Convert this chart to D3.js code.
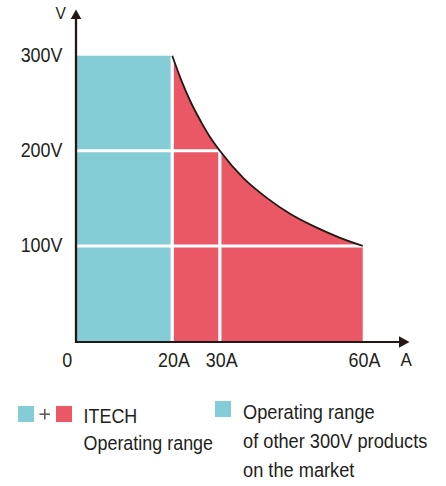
<!DOCTYPE html>
<html>
<head>
<meta charset="utf-8">
<script src="https://cdn.jsdelivr.net/npm/d3@7/dist/d3.min.js"></script>
<style>
  html, body { margin: 0; padding: 0; background: #fff; }
  svg { display: block; }
  text { font-family: "Liberation Sans", Arial, sans-serif; fill: #231f20; }
</style>
</head>
<body>
<svg id="chart" width="446" height="486"></svg>
<script>
// ---- data ----
const xTicks = [0, 20, 30, 60];
const xTickLabels = ["0", "20A", "30A", "60A"];
const yTicks = [100, 200, 300];
const yTickLabels = ["100V", "200V", "300V"];
const otherMaxCurrent = 20;   // A
const otherMaxVoltage = 300;  // V
// ITECH constant-power boundary [A, V]
const powerCurve = [[20,300],[22,273],[24,250],[26,231],[28,214],[30,200],[35,171],[40,150],[45,133],[50,120],[55,109],[60,100]];
// white grid lines: horizontal [V, up to A], vertical [A, up to V]
const gridHorizontal = [[100, 60], [200, 30]];
const gridVertical = [[20, 300], [30, 200]];
const legendLeft = ["ITECH", "Operating range"];
const legendRight = ["Operating range", "of other 300V products", "on the market"];

// ---- style ----
const CYAN = "#84cdd6", RED = "#ea5865", INK = "#231815";
const FS = 19.5, SX = 0.92;

const svg = d3.select("#chart");
const x = d3.scaleLinear().domain([0, 60]).range([77, 362.7]);
const y = d3.scaleLinear().domain([0, 300]).range([341, 55.7]);

// cyan region
svg.append("rect")
  .attr("x", x(0)).attr("y", y(otherMaxVoltage))
  .attr("width", x(otherMaxCurrent) - x(0))
  .attr("height", y(0) - y(otherMaxVoltage))
  .attr("fill", CYAN);

// red region
const area = d3.area().x(d => x(d[0])).y0(y(0)).y1(d => y(d[1])).curve(d3.curveMonotoneX);
svg.append("path").datum(powerCurve).attr("d", area).attr("fill", RED);

// white grid lines
svg.selectAll("line.gh").data(gridHorizontal).join("line")
  .attr("x1", x(0)).attr("x2", d => x(d[1]))
  .attr("y1", d => y(d[0])).attr("y2", d => y(d[0]))
  .attr("stroke", "#fff").attr("stroke-width", 3);
svg.selectAll("line.gv").data(gridVertical).join("line")
  .attr("x1", d => x(d[0])).attr("x2", d => x(d[0]))
  .attr("y1", y(0)).attr("y2", d => y(d[1]) - 2)
  .attr("stroke", "#fff").attr("stroke-width", 3.2);

// boundary curve
const line = d3.line().x(d => x(d[0])).y(d => y(d[1])).curve(d3.curveMonotoneX);
svg.append("path").datum(powerCurve).attr("d", line)
  .attr("fill", "none").attr("stroke", INK).attr("stroke-width", 1.8);

// axes lines + arrows
svg.append("line").attr("x1", 76).attr("x2", 76).attr("y1", 343).attr("y2", 17)
  .attr("stroke", INK).attr("stroke-width", 2.3);
svg.append("path").attr("d", "M76,9.5L70.7,19L81.3,19Z").attr("fill", INK);
svg.append("line").attr("x1", 75).attr("x2", 401).attr("y1", 342).attr("y2", 342)
  .attr("stroke", INK).attr("stroke-width", 1.8);
svg.append("path").attr("d", "M409.5,342L399,336.3L399,347.7Z").attr("fill", INK);

// tick labels via d3 axes
const xAxis = d3.axisBottom(x).tickValues(xTicks).tickFormat((d, i) => xTickLabels[i]).tickSize(0);
const gx = svg.append("g").attr("transform", "translate(0,341)").call(xAxis);
gx.select(".domain").remove();
gx.selectAll("text")
  .attr("x", null).attr("y", null).attr("dy", null)
  .attr("font-size", FS).attr("font-family", null)
  .attr("fill", "#231f20")
  .attr("transform", d => `translate(${d === 0 ? -10.3 : 1.3},25.5) scale(${SX},1)`);

const yAxis = d3.axisLeft(y).tickValues(yTicks).tickFormat((d, i) => yTickLabels[i]).tickSize(0);
const gy = svg.append("g").attr("transform", "translate(77,0)").call(yAxis);
gy.select(".domain").remove();
gy.selectAll("text")
  .attr("x", null).attr("dy", null)
  .attr("font-size", FS).attr("font-family", null)
  .attr("fill", "#231f20")
  .attr("transform", `translate(-14.5,6) scale(${SX},1)`);

// axis titles
svg.append("text").attr("text-anchor", "end").attr("font-size", 17)
  .attr("transform", `translate(66,19) scale(${SX},1)`).text("V");
svg.append("text").attr("text-anchor", "start").attr("font-size", 18.5)
  .attr("transform", `translate(400.5,365.5) scale(${SX},1)`).text("A");

// legend
svg.append("rect").attr("x", 18).attr("y", 406).attr("width", 16).attr("height", 16).attr("fill", CYAN);
svg.append("line").attr("x1", 39.5).attr("x2", 50).attr("y1", 414.2).attr("y2", 414.2)
  .attr("stroke", "#555").attr("stroke-width", 1.5);
svg.append("line").attr("x1", 44.8).attr("x2", 44.8).attr("y1", 409).attr("y2", 419.5)
  .attr("stroke", "#555").attr("stroke-width", 1.5);
svg.append("rect").attr("x", 56).attr("y", 406).attr("width", 16).attr("height", 16).attr("fill", RED);
legendLeft.forEach((t, i) => {
  svg.append("text").attr("font-size", FS)
    .attr("transform", `translate(83.5,${422.5 + i * 27}) scale(${SX},1)`).text(t);
});
svg.append("rect").attr("x", 215).attr("y", 401).attr("width", 16).attr("height", 16).attr("fill", CYAN);
legendRight.forEach((t, i) => {
  svg.append("text").attr("font-size", FS)
    .attr("transform", `translate(243,${418.5 + i * 29}) scale(0.935,1)`).text(t);
});
</script>
</body>
</html>
